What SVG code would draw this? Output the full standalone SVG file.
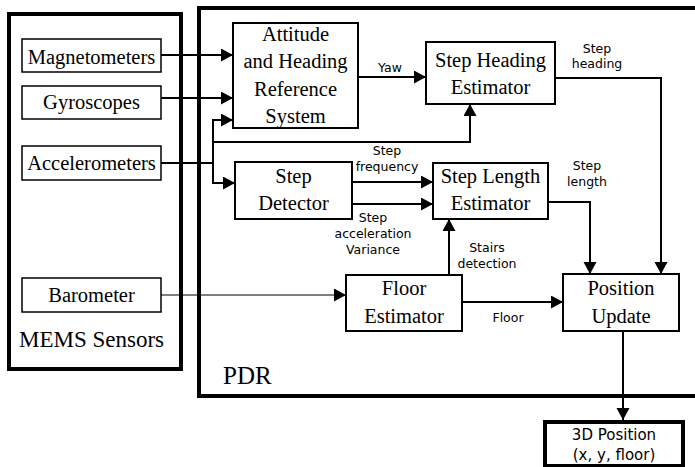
<svg xmlns="http://www.w3.org/2000/svg" width="695" height="467" viewBox="0 0 695 467">
  <style>
    .frame { fill: none; stroke: #000; stroke-width: 4; }
    .box { fill: #fff; stroke: #000; stroke-width: 2; }
    .sensor { fill: #fff; stroke: #000; stroke-width: 1.5; }
    .nm { font-size: 20.5px; fill: #000; text-anchor: middle; }
    .lbl { font-size: 12.5px; fill: #000; text-anchor: middle; }
    .wire { fill: none; stroke: #000; stroke-width: 2; }
    .thin { fill: none; stroke: #000; stroke-width: 1.2; }
  </style>
  <defs>
    <marker id="arrow" markerUnits="userSpaceOnUse" markerWidth="13" markerHeight="14" refX="12" refY="6.5" orient="auto">
      <path d="M0,0 L12,6.5 L0,13 z" fill="#000"/>
    </marker>
  </defs>
  <rect width="695" height="467" fill="#fff"/>

  <!-- enclosing frames -->
  <g id="mems" font-family="'Liberation Serif', serif">
    <rect class="frame" x="9" y="14" width="172" height="355"/>
    <text class="nm" x="91.5" y="347" style="font-size:23px">MEMS Sensors</text>
  </g>
  <g id="pdr" font-family="'Liberation Serif', serif">
    <rect class="frame" x="199" y="8" width="510" height="388"/>
    <text class="nm" x="223" y="384" style="font-size:25px;text-anchor:start">PDR</text>
  </g>

  <!-- connectors -->
  <g id="connectors" font-family="'DejaVu Sans', sans-serif">
    <line class="wire" x1="161" y1="55" x2="233" y2="55" marker-end="url(#arrow)"/>
    <line class="wire" x1="161" y1="98" x2="233" y2="98" marker-end="url(#arrow)"/>
    <line class="wire" x1="161" y1="163" x2="213" y2="163"/>
    <polyline class="wire" points="213,183 213,120 233,120" marker-end="url(#arrow)"/>
    <polyline class="wire" points="212,183 235,183" marker-end="url(#arrow)"/>
    <polyline class="wire" points="213,142 470,142 470,104" marker-end="url(#arrow)"/>
    <line class="wire" x1="358" y1="77" x2="426" y2="77" marker-end="url(#arrow)"/>
    <line class="wire" x1="352" y1="182" x2="433" y2="182" marker-end="url(#arrow)"/>
    <line class="wire" x1="352" y1="204" x2="433" y2="204" marker-end="url(#arrow)"/>
    <polyline class="wire" points="555,78 661,78 661,274" marker-end="url(#arrow)"/>
    <polyline class="wire" points="548,202 590,202 590,274" marker-end="url(#arrow)"/>
    <line class="thin" x1="161" y1="295" x2="346" y2="295" marker-end="url(#arrow)"/>
    <line class="wire" x1="449" y1="275" x2="449" y2="219" marker-end="url(#arrow)"/>
    <line class="wire" x1="462" y1="302" x2="563" y2="302" marker-end="url(#arrow)"/>
    <line class="wire" x1="623" y1="331" x2="623" y2="420" marker-end="url(#arrow)"/>

    <text class="lbl" x="390" y="72">Yaw</text>
    <text class="lbl" x="387" y="155">Step</text>
    <text class="lbl" x="387" y="171">frequency</text>
    <text class="lbl" x="373" y="222">Step</text>
    <text class="lbl" x="373" y="238">acceleration</text>
    <text class="lbl" x="373" y="254">Variance</text>
    <text class="lbl" x="597" y="53">Step</text>
    <text class="lbl" x="597" y="68">heading</text>
    <text class="lbl" x="587" y="170">Step</text>
    <text class="lbl" x="587" y="186">length</text>
    <text class="lbl" x="487" y="252">Stairs</text>
    <text class="lbl" x="487" y="268">detection</text>
    <text class="lbl" x="508" y="322">Floor</text>
  </g>

  <!-- sensors -->
  <g id="magnetometers" font-family="'Liberation Serif', serif">
    <rect class="sensor" x="22" y="39" width="139" height="33"/>
    <text class="nm" x="91.5" y="64">Magnetometers</text>
  </g>
  <g id="gyroscopes" font-family="'Liberation Serif', serif">
    <rect class="sensor" x="22" y="86" width="139" height="33"/>
    <text class="nm" x="91.5" y="109">Gyroscopes</text>
  </g>
  <g id="accelerometers" font-family="'Liberation Serif', serif">
    <rect class="sensor" x="22" y="146" width="139" height="34"/>
    <text class="nm" x="91.5" y="170">Accelerometers</text>
  </g>
  <g id="barometer" font-family="'Liberation Serif', serif">
    <rect class="sensor" x="22" y="278" width="139" height="34"/>
    <text class="nm" x="91.5" y="302">Barometer</text>
  </g>

  <!-- processing blocks -->
  <g id="ahrs" font-family="'Liberation Serif', serif">
    <rect class="box" x="233" y="23" width="125" height="105"/>
    <text class="nm" x="295.5" y="41">Attitude</text>
    <text class="nm" x="295.5" y="68">and Heading</text>
    <text class="nm" x="295.5" y="96">Reference</text>
    <text class="nm" x="295.5" y="123">System</text>
  </g>
  <g id="step-heading" font-family="'Liberation Serif', serif">
    <rect class="box" x="426" y="42" width="129" height="62"/>
    <text class="nm" x="490.5" y="67">Step Heading</text>
    <text class="nm" x="490.5" y="94">Estimator</text>
  </g>
  <g id="step-detector" font-family="'Liberation Serif', serif">
    <rect class="box" x="235" y="162" width="117" height="57"/>
    <text class="nm" x="293.5" y="183">Step</text>
    <text class="nm" x="293.5" y="210">Detector</text>
  </g>
  <g id="step-length" font-family="'Liberation Serif', serif">
    <rect class="box" x="433" y="163" width="115" height="56"/>
    <text class="nm" x="490.5" y="183">Step Length</text>
    <text class="nm" x="490.5" y="210">Estimator</text>
  </g>
  <g id="floor-estimator" font-family="'Liberation Serif', serif">
    <rect class="box" x="346" y="275" width="116" height="56"/>
    <text class="nm" x="404" y="295">Floor</text>
    <text class="nm" x="404" y="323">Estimator</text>
  </g>
  <g id="position-update" font-family="'Liberation Serif', serif">
    <rect class="box" x="563" y="274" width="116" height="57"/>
    <text class="nm" x="621" y="295">Position</text>
    <text class="nm" x="621" y="323">Update</text>
  </g>
  <g id="output" font-family="'DejaVu Sans', sans-serif">
    <rect x="545" y="422" width="138" height="44" fill="#fff" stroke="#000" stroke-width="4"/>
    <text class="lbl" x="614" y="440" style="font-size:15px">3D Position</text>
    <text class="lbl" x="614" y="460" style="font-size:15px">(x, y, floor)</text>
  </g>
</svg>
